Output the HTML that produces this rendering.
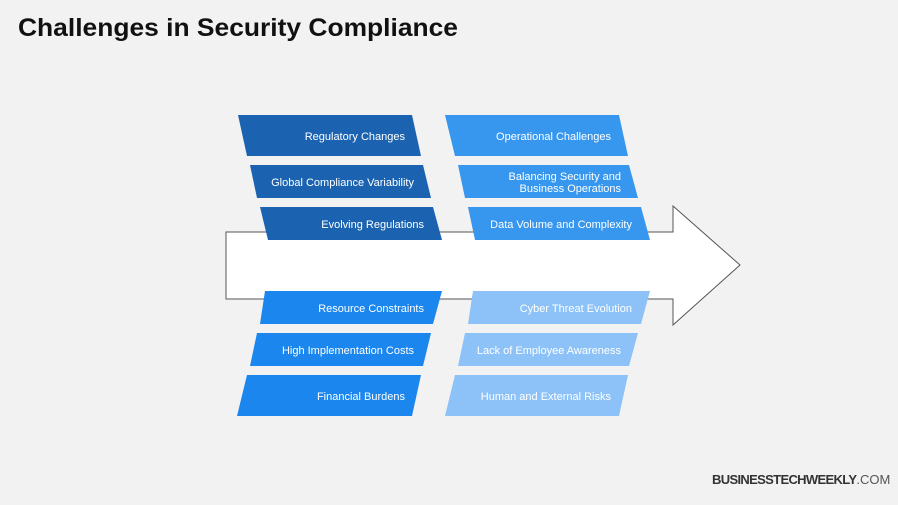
<!DOCTYPE html>
<html><head><meta charset="utf-8"><style>
html,body{margin:0;padding:0;background:#f2f2f2;}
svg{display:block;font-family:"Liberation Sans",Arial,sans-serif;}
</style></head><body>
<svg width="898" height="505" viewBox="0 0 898 505" xmlns="http://www.w3.org/2000/svg">
<rect width="898" height="505" fill="#f2f2f2"/>
<text x="18" y="36" font-size="25" font-weight="bold" fill="#111" textLength="440" lengthAdjust="spacingAndGlyphs">Challenges in Security Compliance</text>
<polygon points="226,232 673,232 673,206 740,265 673,325 673,299 226,299" fill="#fff" stroke="#555" stroke-width="1"/>
<g fill="#1b63b0">
<polygon points="238,115 412,115 421,156 247,156"/>
<polygon points="250,165 423,165 431,198 257,198"/>
<polygon points="260,207 433,207 442,240 268,240"/>
</g>
<g fill="#3797ef">
<polygon points="445,115 619,115 628,156 455,156"/>
<polygon points="458,165 629,165 638,198 465,198"/>
<polygon points="468,207 641,207 650,240 475,240"/>
</g>
<g fill="#1a86ee">
<polygon points="265,291 442,291 433,324 260,324"/>
<polygon points="257,333 431,333 423,366 250,366"/>
<polygon points="247,375 421,375 412,416 237,416"/>
</g>
<g fill="#8cc2f7">
<polygon points="473,291 650,291 641,324 468,324"/>
<polygon points="465,333 638,333 629,366 458,366"/>
<polygon points="455,375 628,375 619,416 445,416"/>
</g>
<g fill="#fff" font-size="11" text-anchor="end">
<text x="405" y="140">Regulatory Changes</text>
<text x="414" y="186">Global Compliance Variability</text>
<text x="424" y="228">Evolving Regulations</text>
<text x="611" y="140">Operational Challenges</text>
<text x="621" y="180">Balancing Security and</text>
<text x="621" y="192">Business Operations</text>
<text x="632" y="228">Data Volume and Complexity</text>
<text x="424" y="312">Resource Constraints</text>
<text x="414" y="354">High Implementation Costs</text>
<text x="405" y="400">Financial Burdens</text>
<text x="632" y="312">Cyber Threat Evolution</text>
<text x="621" y="354">Lack of Employee Awareness</text>
<text x="611" y="400">Human and External Risks</text>
</g>
<text x="712" y="484" font-size="13" fill="#333"><tspan font-weight="bold" textLength="145">BUSINESSTECHWEEKLY</tspan><tspan fill="#555">.COM</tspan></text>
</svg>
</body></html>
